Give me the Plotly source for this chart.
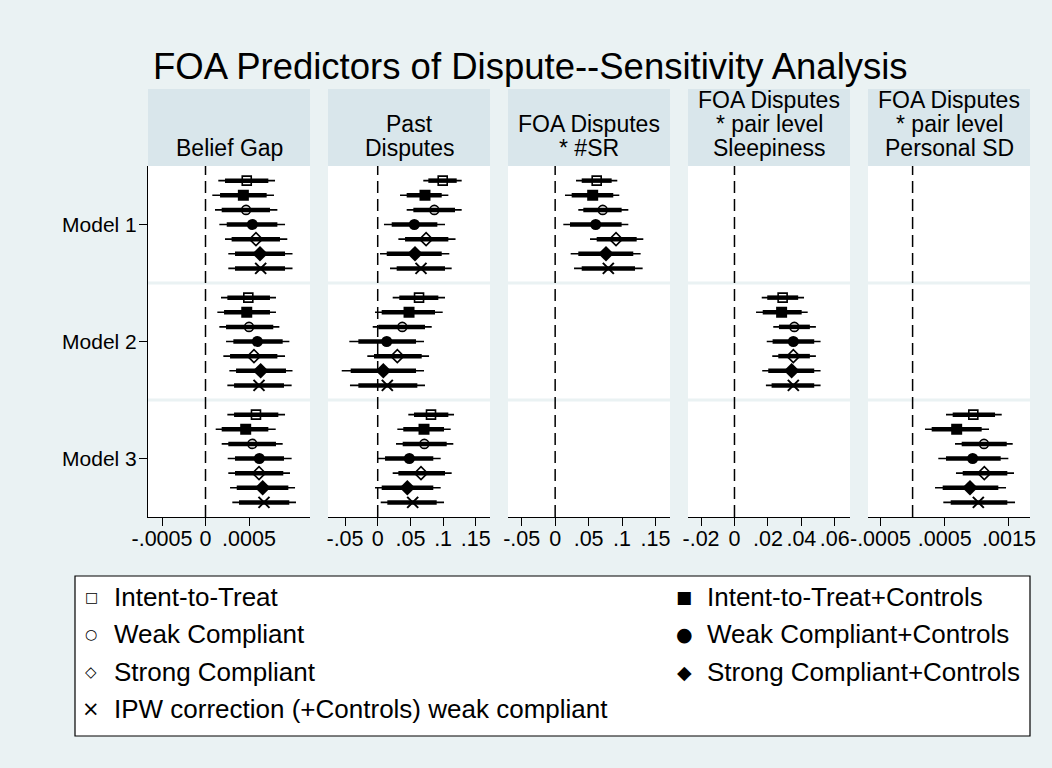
import plotly.graph_objects as go

W, H = 1052, 768
FONT = "Liberation Sans, Arial, sans-serif"
BG = "#eaf2f3"
STRIP = "#d9e6eb"

# ---------------- data ----------------
series = ["Intent-to-Treat", "Intent-to-Treat+Controls", "Weak Compliant",
          "Weak Compliant+Controls", "Strong Compliant", "Strong Compliant+Controls",
          "IPW correction (+Controls) weak compliant"]
symbols = ["square-open", "square", "circle-open", "circle", "diamond-open", "diamond", "x-thin-open"]
legend_glyphs = ["□", "■", "○", "●", "◇", "◆", "×"]
models = ["Model 1", "Model 2", "Model 3"]
panel_titles = [["Belief Gap"], ["Past", "Disputes"], ["FOA Disputes", "* #SR"],
                ["FOA Disputes", "* pair level", "Sleepiness"],
                ["FOA Disputes", "* pair level", "Personal SD"]]

# Belief Gap
bg_m1_b    = [0.000474, 0.000435, 0.000466, 0.000538, 0.000580, 0.000626, 0.000634]
bg_m1_lo95 = [0.000147, 0.000078, 0.000109, 0.000159, 0.000224, 0.000262, 0.000262]
bg_m1_hi95 = [0.000799, 0.000787, 0.000826, 0.000914, 0.000940, 0.001000, 0.001000]
bg_m1_lo90 = [0.000224, 0.000167, 0.000186, 0.000244, 0.000300, 0.000339, 0.000339]
bg_m1_hi90 = [0.000722, 0.000703, 0.000741, 0.000826, 0.000856, 0.000914, 0.000914]

bg_m2_b    = [0.000492, 0.000474, 0.000500, 0.000596, 0.000557, 0.000634, 0.000615]
bg_m2_lo95 = [0.000178, 0.000136, 0.000159, 0.000236, 0.000205, 0.000274, 0.000251]
bg_m2_hi95 = [0.000810, 0.000810, 0.000849, 0.000964, 0.000914, 0.001000, 0.000990]
bg_m2_lo90 = [0.000251, 0.000213, 0.000236, 0.000320, 0.000282, 0.000351, 0.000328]
bg_m2_hi90 = [0.000741, 0.000741, 0.000779, 0.000887, 0.000826, 0.000925, 0.000902]

bg_m3_b    = [0.000580, 0.000462, 0.000538, 0.000619, 0.000615, 0.000657, 0.000672]
bg_m3_lo95 = [0.000251, 0.000117, 0.000186, 0.000255, 0.000262, 0.000282, 0.000308]
bg_m3_hi95 = [0.000914, 0.000807, 0.000887, 0.000990, 0.000971, 0.001029, 0.001040]
bg_m3_lo90 = [0.000328, 0.000186, 0.000262, 0.000339, 0.000339, 0.000359, 0.000385]
bg_m3_hi90 = [0.000837, 0.000722, 0.000810, 0.000902, 0.000894, 0.000952, 0.000963]

# Past Disputes
pd_m1_b    = [0.0994, 0.0723, 0.0866, 0.0560, 0.0740, 0.0570, 0.0662]
pd_m1_lo95 = [0.0697, 0.0341, 0.0443, 0.0096, 0.0316, 0.0035, 0.0188]
pd_m1_hi95 = [0.1284, 0.1080, 0.1284, 0.1029, 0.1190, 0.1095, 0.1131]
pd_m1_lo90 = [0.0774, 0.0443, 0.0545, 0.0214, 0.0418, 0.0138, 0.0290]
pd_m1_hi90 = [0.1208, 0.0979, 0.1182, 0.0912, 0.1080, 0.0979, 0.1029]

pd_m2_b    = [0.0632, 0.0479, 0.0376, 0.0138, 0.0300, 0.0086, 0.0147]
pd_m2_lo95 = [0.0229, -0.0041, -0.0076, -0.0434, -0.0159, -0.0550, -0.0424]
pd_m2_hi95 = [0.1029, 0.0994, 0.0826, 0.0708, 0.0785, 0.0708, 0.0723]
pd_m2_lo90 = [0.0330, 0.0061, 0.0009, -0.0296, -0.0057, -0.0413, -0.0296]
pd_m2_hi90 = [0.0927, 0.0876, 0.0723, 0.0586, 0.0673, 0.0586, 0.0606]

pd_m3_b    = [0.0815, 0.0708, 0.0713, 0.0484, 0.0662, 0.0453, 0.0535]
pd_m3_lo95 = [0.0468, 0.0300, 0.0280, 0.0000, 0.0229, -0.0041, 0.0046]
pd_m3_hi95 = [0.1167, 0.1116, 0.1156, 0.0963, 0.1131, 0.0963, 0.1014]
pd_m3_lo90 = [0.0555, 0.0391, 0.0382, 0.0112, 0.0316, 0.0061, 0.0147]
pd_m3_hi90 = [0.1080, 0.1014, 0.1055, 0.0850, 0.1029, 0.0850, 0.0902]

# FOA Disputes * #SR (Model 1 only)
sr_m1_b    = [0.0621, 0.0561, 0.0711, 0.0606, 0.0910, 0.0760, 0.0795]
sr_m1_lo95 = [0.0312, 0.0147, 0.0346, 0.0122, 0.0521, 0.0232, 0.0282]
sr_m1_hi95 = [0.0929, 0.0959, 0.1094, 0.1094, 0.1318, 0.1278, 0.1308]
sr_m1_lo90 = [0.0397, 0.0247, 0.0421, 0.0222, 0.0621, 0.0346, 0.0397]
sr_m1_hi90 = [0.0845, 0.0869, 0.0994, 0.0994, 0.1219, 0.1168, 0.1194]

# FOA Disputes * pair level Sleepiness (Model 2 only)
sl_m2_b    = [0.0288, 0.0282, 0.0358, 0.0352, 0.0352, 0.0342, 0.0352]
sl_m2_lo95 = [0.0163, 0.0129, 0.0232, 0.0193, 0.0226, 0.0166, 0.0188]
sl_m2_hi95 = [0.0416, 0.0438, 0.0487, 0.0515, 0.0487, 0.0515, 0.0515]
sl_m2_lo90 = [0.0196, 0.0169, 0.0266, 0.0228, 0.0262, 0.0202, 0.0222]
sl_m2_hi90 = [0.0381, 0.0402, 0.0451, 0.0477, 0.0451, 0.0477, 0.0477]

# FOA Disputes * pair level Personal SD (Model 3 only)
ps_m3_b    = [0.000945, 0.000686, 0.001111, 0.000935, 0.001116, 0.000893, 0.001023]
ps_m3_lo95 = [0.000520, 0.000193, 0.000660, 0.000400, 0.000675, 0.000349, 0.000478]
ps_m3_hi95 = [0.001387, 0.001189, 0.001558, 0.001490, 0.001578, 0.001454, 0.001594]
ps_m3_lo90 = [0.000624, 0.000297, 0.000764, 0.000520, 0.000780, 0.000468, 0.000593]
ps_m3_hi90 = [0.001283, 0.001075, 0.001465, 0.001371, 0.001474, 0.001334, 0.001474]

# (panel, model) -> (b, lo95, hi95, lo90, hi90)
cells = {
    (0, 0): (bg_m1_b, bg_m1_lo95, bg_m1_hi95, bg_m1_lo90, bg_m1_hi90),
    (0, 1): (bg_m2_b, bg_m2_lo95, bg_m2_hi95, bg_m2_lo90, bg_m2_hi90),
    (0, 2): (bg_m3_b, bg_m3_lo95, bg_m3_hi95, bg_m3_lo90, bg_m3_hi90),
    (1, 0): (pd_m1_b, pd_m1_lo95, pd_m1_hi95, pd_m1_lo90, pd_m1_hi90),
    (1, 1): (pd_m2_b, pd_m2_lo95, pd_m2_hi95, pd_m2_lo90, pd_m2_hi90),
    (1, 2): (pd_m3_b, pd_m3_lo95, pd_m3_hi95, pd_m3_lo90, pd_m3_hi90),
    (2, 0): (sr_m1_b, sr_m1_lo95, sr_m1_hi95, sr_m1_lo90, sr_m1_hi90),
    (3, 1): (sl_m2_b, sl_m2_lo95, sl_m2_hi95, sl_m2_lo90, sl_m2_hi90),
    (4, 2): (ps_m3_b, ps_m3_lo95, ps_m3_hi95, ps_m3_lo90, ps_m3_hi90),
}

x_ranges = [[-0.000661, 0.001201], [-0.0760, 0.1717], [-0.0705, 0.1717],
            [-0.0278, 0.0691], [-0.000694, 0.001827]]
tick_vals = [[-0.0005, 0, 0.0005], [-0.05, 0, 0.05, 0.1, 0.15], [-0.05, 0, 0.05, 0.1, 0.15],
             [-0.02, 0, 0.02, 0.04, 0.06], [-0.0005, 0.0005, 0.0015]]
tick_text = [["-.0005", "0", ".0005"], ["-.05", "0", ".05", ".1", ".15"],
             ["-.05", "0", ".05", ".1", ".15"], ["-.02", "0", ".02", ".04", ".06"],
             ["-.0005", ".0005", ".0015"]]

marker_sizes = [9, 11, 9, 11, 10, 12, 11]

# ---------------- layout geometry (pixels) ----------------
panel_left = [148, 328, 508, 688, 868]
panel_w = 162
plot_top, plot_bot = 166, 517
strip_top = 89


def px(x):
    return x / W


def py(y):
    return 1 - y / H


fig = go.Figure()


def ypos(m, k):
    return 8 * m + k + 1


for p in range(5):
    xa = "x" if p == 0 else f"x{p+1}"
    ya = "y" if p == 0 else f"y{p+1}"
    for k in range(7):
        thin_x, thin_y, thick_x, thick_y, mx, my = [], [], [], [], [], []
        for m in range(3):
            if (p, m) not in cells:
                continue
            b, lo95, hi95, lo90, hi90 = cells[(p, m)]
            y = ypos(m, k)
            thin_x += [lo95[k], hi95[k], None]
            thin_y += [y, y, None]
            thick_x += [lo90[k], hi90[k], None]
            thick_y += [y, y, None]
            mx.append(b[k])
            my.append(y)
        if not mx:
            continue
        fig.add_trace(go.Scatter(x=thin_x, y=thin_y, mode="lines", xaxis=xa, yaxis=ya,
                                 line=dict(color="black", width=1.6), showlegend=False,
                                 hoverinfo="skip"))
        fig.add_trace(go.Scatter(x=thick_x, y=thick_y, mode="lines", xaxis=xa, yaxis=ya,
                                 line=dict(color="black", width=4.5), showlegend=False,
                                 hoverinfo="skip"))
        lw = 1.6 if k in (0, 2, 4) else (2 if k == 6 else 0)
        fig.add_trace(go.Scatter(x=mx, y=my, mode="markers", xaxis=xa, yaxis=ya,
                                 name=series[k], showlegend=False,
                                 marker=dict(symbol=symbols[k], size=marker_sizes[k],
                                             color="black",
                                             line=dict(color="black", width=lw))))

layout = dict(
    width=W, height=H, margin=dict(l=0, r=0, t=0, b=0, autoexpand=False),
    paper_bgcolor=BG, plot_bgcolor="white",
    font=dict(family=FONT, color="black", size=21.5),
    showlegend=False,
)

shapes = []
annotations = []
for p in range(5):
    sfx = "" if p == 0 else str(p + 1)
    x0 = panel_left[p]
    layout["xaxis" + sfx] = dict(
        domain=[px(x0), px(x0 + panel_w)], range=x_ranges[p], anchor="y" + sfx,
        tickvals=tick_vals[p], ticktext=tick_text[p], ticks="outside", ticklen=8,
        tickcolor="black", tickwidth=1, showline=True, linecolor="black", linewidth=1,
        showgrid=False, zeroline=False, tickfont=dict(size=21.5, family=FONT, color="black"),
        ticklabelstandoff=-6, fixedrange=True,
    )
    yax = dict(domain=[py(plot_bot), py(plot_top)], range=[24, 0], anchor="x" + sfx,
               showgrid=False, zeroline=False, fixedrange=True)
    if p == 0:
        yax.update(tickvals=[4, 12, 20], ticktext=models, ticks="outside", ticklen=8,
                   tickcolor="black", showline=True, linecolor="black", linewidth=1,
                   ticklabelstandoff=-2,
                   tickfont=dict(size=21, family=FONT, color="black"))
    else:
        yax.update(showticklabels=False, ticks="", showline=False)
    layout["yaxis" + sfx] = yax

    # band separators
    for yb in (8, 16):
        shapes.append(dict(type="line", xref=f"x{sfx} domain", yref="y" + sfx,
                           x0=0, x1=1, y0=yb, y1=yb, layer="below",
                           line=dict(color=BG, width=3)))
    # zero reference line
    shapes.append(dict(type="line", xref="x" + sfx, yref=f"y{sfx} domain",
                       x0=0, x1=0, y0=0, y1=1, layer="below",
                       line=dict(color="black", width=1.5, dash="12px,6px")))
    # header strip
    shapes.append(dict(type="rect", xref="paper", yref="paper",
                       x0=px(x0), x1=px(x0 + panel_w), y0=py(plot_top), y1=py(strip_top),
                       fillcolor=STRIP, line=dict(width=0), layer="below"))
    lines = panel_titles[p]
    n = len(lines)
    for i, t in enumerate(lines):
        yc = 148 - 24 * (n - 1 - i)
        annotations.append(dict(text=t, xref="paper", yref="paper", x=px(x0 + panel_w / 2),
                                y=py(yc), xanchor="center", yanchor="middle", showarrow=False,
                                font=dict(size=23, family=FONT, color="black")))

annotations.append(dict(text="FOA Predictors of Dispute--Sensitivity Analysis", xref="paper",
                        yref="paper", x=px(530), y=py(66), xanchor="center", yanchor="middle",
                        showarrow=False, font=dict(size=36.5, family=FONT, color="black")))

# ---------------- legend (two columns, boxed) ----------------
shapes.append(dict(type="rect", xref="paper", yref="paper",
                   x0=px(75), x1=px(1030), y0=py(736), y1=py(576),
                   fillcolor="white", line=dict(color="black", width=1.2), layer="below"))
glyph_sizes = [14, 17, 14, 19, 15, 19, 21]
col_x = [91, 684]
for k, name in enumerate(series):
    row, col = k // 2, k % 2
    yc = 597 + 37.3 * row
    annotations.append(dict(text=legend_glyphs[k], xref="paper", yref="paper",
                            x=px(col_x[col]), y=py(yc), xanchor="center", yanchor="middle",
                            showarrow=False,
                            font=dict(size=glyph_sizes[k], family="DejaVu Sans", color="black")))
    annotations.append(dict(text=name, xref="paper", yref="paper",
                            x=px(col_x[col] + 21), y=py(yc), xanchor="left", yanchor="middle",
                            showarrow=False, font=dict(size=26, family=FONT, color="black")))

layout["shapes"] = shapes
layout["annotations"] = annotations
fig.update_layout(**layout)

fig.write_html("out.html", config={"responsive": False, "displayModeBar": False},
               post_script="document.body.style.margin='0';document.body.style.overflow='hidden';")
